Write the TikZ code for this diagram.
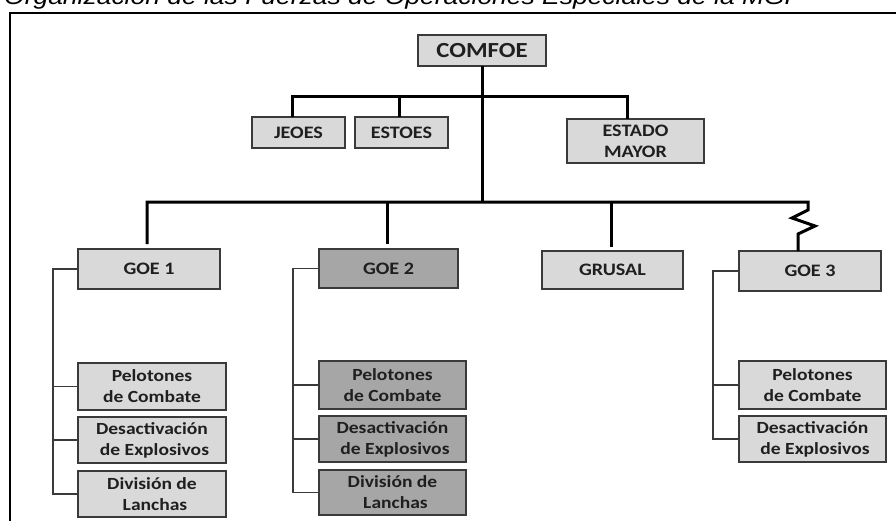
\documentclass[tikz,border=0pt]{standalone}
\usepackage{fontspec}
\newfontfamily\boxfont[FakeStretch=1.15]{Carlito}
\newfontfamily\titlefont[FakeStretch=1.15]{Liberation Sans}
\usetikzlibrary{calc}
\definecolor{lightbox}{HTML}{D9D9D9}
\definecolor{darkbox}{HTML}{A6A6A6}
\definecolor{boxline}{HTML}{3A3A3A}
\definecolor{txt}{HTML}{1F1F1F}
\tikzset{
  orgbox/.style={draw=boxline, line width=1.8pt, fill=lightbox, text=txt, inner sep=0pt, outer sep=0pt,
    anchor=north west, align=center, font=\boxfont\bfseries\fontsize{17.5}{21}\selectfont},
  subbox/.style={orgbox, font=\boxfont\bfseries\fontsize{17}{21}\selectfont},
  darker/.style={fill=darkbox},
  mainline/.style={line width=3pt, black, line join=miter},
  thinline/.style={line width=1.6pt, boxline},
}
\begin{document}
\begin{tikzpicture}[x=1pt,y=-1pt]
\useasboundingbox (0,0) rectangle (896,520);
\clip (0,0) rectangle (896,520);
% title (cut off by the top edge)
\node[anchor=base west, inner sep=0pt, font=\titlefont\itshape\fontsize{23}{23}\selectfont] (title) at (4,4.5) {Organización de las Fuerzas de Operaciones Especiales de la MGP};
% frame
\draw[line width=2pt] (10,530) |- (900,13);
% top level
\node[orgbox, minimum width=128pt, minimum height=31pt, font=\boxfont\bfseries\fontsize{21.5}{24}\selectfont] (comfoe) at (418,35) {COMFOE};
\node[orgbox, minimum width=93pt, minimum height=31pt] (jeoes) at (252,117) {JEOES};
\node[orgbox, minimum width=93pt, minimum height=31pt] (estoes) at (355,117) {ESTOES};
\node[orgbox, minimum width=137pt, minimum height=44pt] (estado) at (567,119) {ESTADO\\MAYOR};
% second level
\node[orgbox, minimum width=142pt, minimum height=40pt] (goe1) at (78,249) {GOE 1};
\node[orgbox, darker, minimum width=139pt, minimum height=39pt] (goe2) at (319,249) {GOE 2};
\node[orgbox, minimum width=141pt, minimum height=38pt] (grusal) at (542,251) {GRUSAL};
\node[orgbox, minimum width=142pt, minimum height=40pt] (goe3) at (739,251) {GOE 3};
% GOE 1 units
\node[subbox, minimum width=148pt, minimum height=47pt] (p1) at (78,363) {Pelotones\\de Combate};
\node[subbox, minimum width=148pt, minimum height=46pt] (d1) at (78,417) {Desactivación\\\hspace*{5pt}de Explosivos};
\node[subbox, minimum width=148pt, minimum height=46pt] (l1) at (78,471) {División de\\\hspace*{6pt}Lanchas};
% GOE 2 units
\node[subbox, darker, minimum width=147pt, minimum height=48pt] (p2) at (319,361) {Pelotones\\de Combate};
\node[subbox, darker, minimum width=147pt, minimum height=46pt] (d2) at (319,416) {Desactivación\\\hspace*{5pt}de Explosivos};
\node[subbox, darker, minimum width=147pt, minimum height=45pt] (l2) at (319,470) {División de\\\hspace*{6pt}Lanchas};
% GOE 3 units
\node[subbox, minimum width=147pt, minimum height=48pt] (p3) at (739,361) {Pelotones\\de Combate};
\node[subbox, minimum width=147pt, minimum height=46pt] (d3) at (739,416) {Desactivación\\\hspace*{5pt}de Explosivos};
% junctions
\coordinate (b1) at (482,96);
\coordinate (b2) at (482,202);
\coordinate (zzA) at (808,202);
\coordinate (zzB) at (808,210);
\coordinate (zzC) at (792,218);
\coordinate (zzD) at (815,226);
\coordinate (k1) at (53,0);
\coordinate (k2) at (293,0);
\coordinate (k3) at (713,0);
% main connectors
\draw[mainline] (comfoe.south) -- (b2);
\draw[mainline] ([xshift=-6.5pt]jeoes.north) |- (b1) -| ([xshift=-8.5pt]estado.north);
\draw[mainline] ([xshift=-2.5pt]estoes.north) -- ([xshift=-2.5pt]estoes.north |- b1);
\draw[mainline] ([xshift=-2pt,yshift=5pt]goe1.north) |- (zzA) -- (zzB) -- (zzC) -- (zzD)
  -- ([xshift=-12pt]goe3.north |- 0,234) -- ([xshift=-12pt]goe3.north);
\draw[mainline] ([xshift=-1.5pt,yshift=5pt]goe2.north) -- ([xshift=-1.5pt]goe2.north |- b2);
\draw[mainline] ([xshift=-1.5pt,yshift=4pt]grusal.north) -- ([xshift=-1.5pt]grusal.north |- b2);
% brackets
\draw[thinline] (goe1.west) -- (goe1.west -| k1) -- (l1.west -| k1) -- (l1.west);
\draw[thinline] (p1.west) -- (p1.west -| k1);
\draw[thinline] (d1.west) -- (d1.west -| k1);
\draw[thinline] (goe2.west) -- (goe2.west -| k2) -- (l2.west -| k2) -- (l2.west);
\draw[thinline] (p2.west) -- (p2.west -| k2);
\draw[thinline] (d2.west) -- (d2.west -| k2);
\draw[thinline] (goe3.west) -- (goe3.west -| k3) -- (d3.west -| k3) -- (d3.west);
\draw[thinline] (p3.west) -- (p3.west -| k3);
\end{tikzpicture}
\end{document}
